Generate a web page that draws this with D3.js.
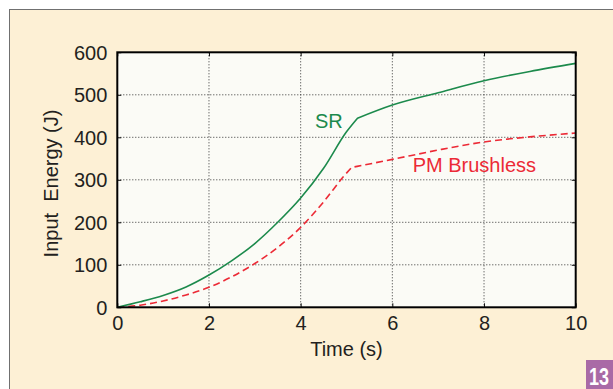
<!DOCTYPE html>
<html><head><meta charset="utf-8">
<script src="https://cdn.jsdelivr.net/npm/d3@7"></script>
<style>
html,body{margin:0;padding:0;background:#fff;}
svg{display:block;font-family:"Liberation Sans",Arial,Helvetica,sans-serif;}
</style></head>
<body>
<svg id="chart" width="613" height="389"></svg>
<script>
// ---- data ----
const srTime = [0, 0.5, 1, 1.5, 2, 2.5, 3, 3.5, 4, 4.5, 5, 5.24, 6, 7, 8, 9, 10];
const srEnergy = [0, 13, 28, 48, 76, 110, 150, 200, 257, 327, 413, 445, 476, 505, 533, 555, 574];
const pmTime = [0, 0.5, 1, 1.5, 2, 2.5, 3, 3.5, 4, 4.5, 4.93, 5.11, 6, 7, 8, 9, 10];
const pmEnergy = [0, 5, 15, 29, 47, 72, 103, 141, 188, 248, 307, 329, 348, 370, 389, 401, 410];
const srKinkIndex = 11;   // index of the sharp bend in each series
const pmKinkIndex = 11;
const xTicks = [0, 2, 4, 6, 8, 10];
const yTicks = [0, 100, 200, 300, 400, 500, 600];
const seriesLabels = ["SR", "PM Brushless"];
const xTitle = "Time (s)";
const yTitle = "Input\u00a0 Energy (J)";
const figNumber = "13";

// ---- layout ----
const svg = d3.select("#chart");
const W = 613, H = 389;
const L = 117.3, R = 575.7, T = 52.3, B = 307.3;
const textCol = "#231f20";
const green = "#1c8a4c", red = "#ec2a36";

// page background
svg.append("rect").attr("x", 0).attr("y", 0).attr("width", W).attr("height", H).attr("fill", "#ffffff");
svg.append("rect").attr("x", 9.5).attr("y", 9.5).attr("width", W).attr("height", H)
  .attr("fill", "#fdf0d5").attr("stroke", "#707070").attr("stroke-width", 1);

const x = d3.scaleLinear().domain([0, 10]).range([L, R]);
const y = d3.scaleLinear().domain([0, 600]).range([B, T]);

// plot background
svg.append("rect").attr("x", L).attr("y", T).attr("width", R - L).attr("height", B - T).attr("fill", "#fbfbf6");

// grid
const grid = svg.append("g");
grid.selectAll(".gx").data(xTicks.slice(1, -1)).enter().append("line")
  .attr("x1", d => x(d)).attr("x2", d => x(d)).attr("y1", T).attr("y2", B)
  .attr("stroke", "#333").attr("stroke-width", 1).attr("stroke-dasharray", "1,2");
grid.selectAll(".gy").data(yTicks.slice(1, -1)).enter().append("line")
  .attr("x1", L).attr("x2", R).attr("y1", d => y(d)).attr("y2", d => y(d))
  .attr("stroke", "#333").attr("stroke-width", 1).attr("stroke-dasharray", "1,2");

// axes (labels), ticks inward
const xAxis = d3.axisBottom(x).tickValues(xTicks).tickSizeInner(-4).tickSizeOuter(0).tickPadding(9);
const yAxis = d3.axisLeft(y).tickValues(yTicks).tickSizeInner(-4).tickSizeOuter(0).tickPadding(10);
const gx = svg.append("g").attr("transform", `translate(0,${B})`).call(xAxis);
const gy = svg.append("g").attr("transform", `translate(${L},0)`).call(yAxis);
const gxt = svg.append("g").attr("transform", `translate(0,${T})`).call(d3.axisTop(x).tickValues(xTicks).tickSizeInner(-4).tickSizeOuter(0).tickFormat(""));
const gyr = svg.append("g").attr("transform", `translate(${R},0)`).call(d3.axisRight(y).tickValues(yTicks).tickSizeInner(-4).tickSizeOuter(0).tickFormat(""));
[gx, gy, gxt, gyr].forEach(g => {
  g.select(".domain").remove();
  g.selectAll(".tick line").attr("stroke", "#111").attr("stroke-width", 1);
  g.selectAll("text").attr("fill", textCol).style("font-size", "20px")
    .style("font-family", '"Liberation Sans",Arial,sans-serif');
});
gy.selectAll("text").attr("dy", "0.35em");

// series: smooth pieces joined at a sharp bend
const line = d3.line().x(d => x(d[0])).y(d => y(d[1])).curve(d3.curveMonotoneX);
function kinkedPath(data, k) {
  const a = line(data.slice(0, k + 1));
  const b = line(data.slice(k));
  return a + b.replace(/^M[^CLZ]*/, "");
}
const srData = srTime.map((t, i) => [t, srEnergy[i]]);
const pmData = pmTime.map((t, i) => [t, pmEnergy[i]]);
svg.append("path").attr("d", kinkedPath(pmData, pmKinkIndex)).attr("fill", "none")
  .attr("stroke", red).attr("stroke-width", 1.6).attr("stroke-dasharray", "7,4");
svg.append("path").attr("d", kinkedPath(srData, srKinkIndex)).attr("fill", "none")
  .attr("stroke", green).attr("stroke-width", 1.6);

// frame
svg.append("rect").attr("x", L).attr("y", T).attr("width", R - L).attr("height", B - T)
  .attr("fill", "none").attr("stroke", "#000").attr("stroke-width", 2);

// series labels
svg.append("text").attr("x", 315).attr("y", 128).attr("fill", green)
  .style("font-size", "20px").text(seriesLabels[0]);
svg.append("text").attr("x", 412.7).attr("y", 171.7).attr("fill", red)
  .style("font-size", "20px").text(seriesLabels[1]);

// axis titles
svg.append("text").attr("x", (L + R) / 2).attr("y", 355.7).attr("text-anchor", "middle")
  .attr("fill", textCol).style("font-size", "20px").text(xTitle);
svg.append("text").attr("transform", "translate(57.5,183.5) rotate(-90)").attr("text-anchor", "middle")
  .attr("fill", textCol).style("font-size", "20px").text(yTitle);

// figure number badge
svg.append("rect").attr("x", 586).attr("y", 360).attr("width", 30).attr("height", 32).attr("fill", "#a96aa6");
svg.append("text").attr("transform", "translate(589,385) scale(0.75,1)").attr("fill", "#fff")
  .style("font-size", "24px").style("font-weight", "bold").text(figNumber);
</script>
</body></html>
